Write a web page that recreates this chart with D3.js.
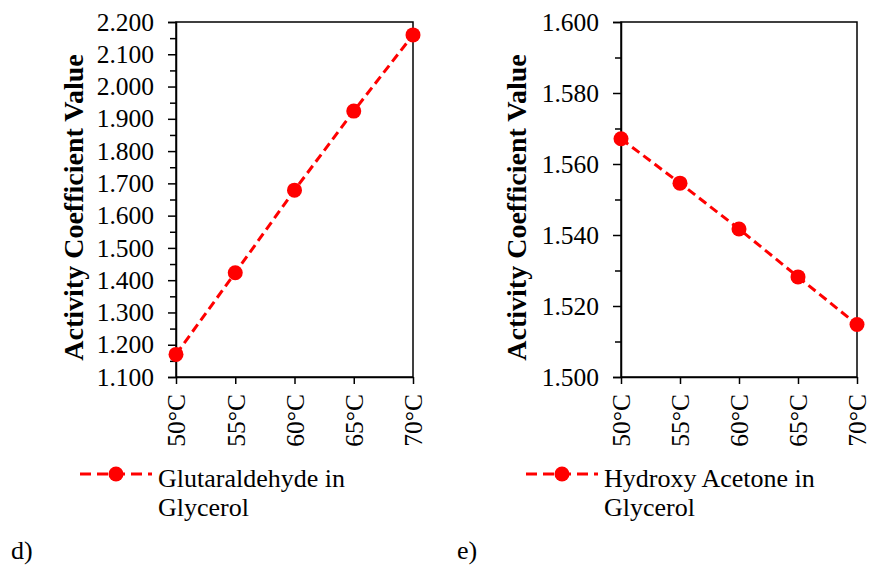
<!DOCTYPE html>
<html>
<head>
<meta charset="utf-8">
<script src="https://cdn.jsdelivr.net/npm/d3@7"></script>
<style>
  body { margin: 0; background: #fff; }
  svg text { font-family: 'Times New Roman', Times, 'Liberation Serif', serif; }
  .axis path, .axis line { stroke: #000; stroke-width: 1.5; }
  .axis text { font-size: 25.5px; fill: #000; }
</style>
</head>
<body>
<svg width="873" height="567"></svg>
<script>
// data
var temps = ['50°C', '55°C', '60°C', '65°C', '70°C'];
var glutaraldehyde = [1.170, 1.423, 1.679, 1.924, 2.160];
var hydroxyAcetone = [1.5671, 1.5546, 1.5417, 1.5282, 1.5148];
var ticksD = [1.1, 1.2, 1.3, 1.4, 1.5, 1.6, 1.7, 1.8, 1.9, 2.0, 2.1, 2.2];
var ticksE = [1.50, 1.52, 1.54, 1.56, 1.58, 1.60];
var minorD = [1.15, 1.25, 1.35, 1.45, 1.55, 1.65, 1.75, 1.85, 1.95, 2.05, 2.15];
var minorE = [1.51, 1.53, 1.55, 1.57, 1.59];

var serif = "'Times New Roman', Times, 'Liberation Serif', serif";
var svg = d3.select('svg');

var drawPanel = (cfg) => {
    var g = svg.append('g');
    var x = d3.scalePoint().domain(temps).range([cfg.x0, cfg.x1]).padding(0);
    var y = d3.scaleLinear().domain(cfg.domain).range([cfg.y1, cfg.y0]);

    // frame
    g.append('rect')
        .attr('x', cfg.x0).attr('y', cfg.y0)
        .attr('width', cfg.x1 - cfg.x0).attr('height', cfg.y1 - cfg.y0)
        .attr('fill', 'none').attr('stroke', '#000').attr('stroke-width', 1.5);

    // minor ticks
    g.append('g').attr('class', 'axis')
        .attr('transform', 'translate(' + cfg.x0 + ',0)')
        .call(d3.axisLeft(y).tickValues(cfg.minor).tickSize(6).tickFormat(''))
        .select('.domain').remove();

    var ya = g.append('g').attr('class', 'axis')
        .attr('transform', 'translate(' + cfg.x0 + ',0)')
        .call(d3.axisLeft(y).tickValues(cfg.ticks).tickSize(8).tickPadding(14).tickFormat(d3.format('.3f')));
    ya.attr('font-family', serif);

    var xa = g.append('g').attr('class', 'axis')
        .attr('transform', 'translate(0,' + cfg.y1 + ')')
        .call(d3.axisBottom(x).tickSize(7).tickSizeOuter(0));
    xa.attr('font-family', serif);
    xa.selectAll('text')
        .attr('transform', 'rotate(-90)')
        .attr('text-anchor', 'end')
        .attr('x', -17).attr('y', 0).attr('dy', '0.35em');

    // y title
    g.append('text')
        .attr('transform', 'translate(' + cfg.titleX + ',' + ((cfg.y0 + cfg.y1) / 2 + 8) + ') rotate(-90)')
        .attr('text-anchor', 'middle')
        .attr('font-size', 28).attr('font-weight', 'bold')
        .text('Activity Coefficient Value');

    var line = d3.line().x((d, i) => x(temps[i])).y(d => y(d));
    g.append('path').datum(cfg.values)
        .attr('d', line)
        .attr('fill', 'none').attr('stroke', '#ff0000')
        .attr('stroke-width', 3).attr('stroke-dasharray', '9,5');
    g.selectAll('circle.pt').data(cfg.values).enter().append('circle')
        .attr('class', 'pt')
        .attr('cx', (d, i) => x(temps[i]))
        .attr('cy', d => y(d))
        .attr('r', 7.5).attr('fill', '#ff0000');

    // legend
    var lg = g.append('g').attr('transform', 'translate(' + cfg.legX + ',474)');
    lg.append('line').attr('x1', 0).attr('x2', 72).attr('y1', 0).attr('y2', 0)
        .attr('stroke', '#ff0000').attr('stroke-width', 3).attr('stroke-dasharray', '11,6');
    lg.append('circle').attr('cx', 36).attr('cy', 0).attr('r', 7.5).attr('fill', '#ff0000');
    lg.append('text').attr('x', 78).attr('y', 13).attr('font-size', 26).text(cfg.name[0]);
    lg.append('text').attr('x', 78).attr('y', 42).attr('font-size', 26).text(cfg.name[1]);

    g.append('text').attr('x', cfg.tagX).attr('y', 559).attr('font-size', 26).text(cfg.tag);
};

drawPanel({x0: 176, x1: 413, y0: 22, y1: 377, domain: [1.1, 2.2], ticks: ticksD, minor: minorD,
    values: glutaraldehyde, titleX: 83, legX: 80, name: ['Glutaraldehyde in', 'Glycerol'], tagX: 11, tag: 'd)'});
drawPanel({x0: 621, x1: 857, y0: 22, y1: 377, domain: [1.5, 1.6], ticks: ticksE, minor: minorE,
    values: hydroxyAcetone, titleX: 526, legX: 526, name: ['Hydroxy Acetone in', 'Glycerol'], tagX: 457, tag: 'e)'});
</script>
</body>
</html>
